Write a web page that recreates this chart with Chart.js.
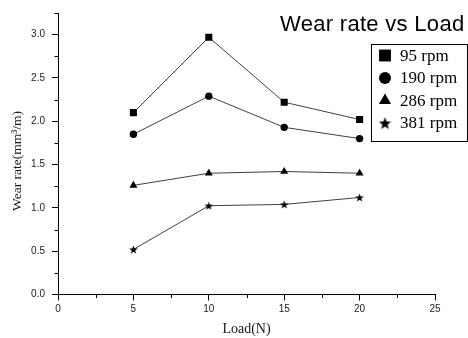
<!DOCTYPE html>
<html>
<head>
<meta charset="utf-8">
<script src="https://cdn.jsdelivr.net/npm/chart.js@4/dist/chart.umd.min.js"></script>
<style>
html,body{margin:0;padding:0;background:#fff;}
#wrap{position:relative;width:468px;height:338px;}
</style>
</head>
<body>
<div id="wrap"><canvas id="c" width="468" height="338"></canvas></div>
<script>
// ---- data ----
const loads = [5, 10, 15, 20];
const rpm95 = [2.10, 2.97, 2.22, 2.02];
const rpm190 = [1.85, 2.29, 1.93, 1.80];
const rpm286 = [1.26, 1.40, 1.42, 1.40];
const rpm381 = [0.52, 1.025, 1.04, 1.12];
const seriesLabels = ['95 rpm', '190 rpm', '286 rpm', '381 rpm'];
const chartTitle = 'Wear rate vs Load';
const xTitle = 'Load(N)';
const yTitle = 'Wear rate(mm\u00B3/m)';

function starCanvas(size) {
  const cv = document.createElement('canvas');
  cv.width = size; cv.height = size;
  const g = cv.getContext('2d');
  const cx = size / 2, cy = size / 2 + size * 0.05, R = size / 2, r = R * 0.42;
  g.beginPath();
  for (let i = 0; i < 10; i++) {
    const a = -Math.PI / 2 + i * Math.PI / 5;
    const rr = i % 2 === 0 ? R : r;
    const px = cx + rr * Math.cos(a), py = cy + rr * Math.sin(a);
    if (i === 0) g.moveTo(px, py); else g.lineTo(px, py);
  }
  g.closePath();
  g.fillStyle = '#000';
  g.fill();
  return cv;
}
const starSmall = starCanvas(9);
const starBig = starCanvas(13);

function toXY(vals) { return loads.map((x, i) => ({x: x, y: vals[i]})); }

const styles = [
  {pointStyle: 'rect', radius: 5},
  {pointStyle: 'circle', radius: 3.7},
  {pointStyle: 'triangle', radius: 4.6},
  {pointStyle: starSmall, radius: 4.5}
];
const legendStyles = [
  {pointStyle: 'rect', radius: 8.4},
  {pointStyle: 'circle', radius: 6},
  {pointStyle: 'triangle', radius: 7},
  {pointStyle: starBig, radius: 6.5}
];

const allSeries = [rpm95, rpm190, rpm286, rpm381];
const datasets = allSeries.map((vals, i) => ({
  label: seriesLabels[i],
  data: toXY(vals),
  borderColor: '#404040',
  borderWidth: 1,
  backgroundColor: '#000',
  pointBackgroundColor: '#000',
  pointBorderColor: '#000',
  pointBorderWidth: 0,
  pointStyle: styles[i].pointStyle,
  pointRadius: styles[i].radius,
  pointHoverRadius: styles[i].radius,
  tension: 0,
  fill: false
}));

const decor = {
  id: 'decor',
  afterDraw(chart) {
    const ctx = chart.ctx;
    const xs = chart.scales.x, ys = chart.scales.y;
    ctx.save();
    // minor ticks
    ctx.strokeStyle = '#000';
    ctx.lineWidth = 1;
    ctx.beginPath();
    for (let v = 2.5; v < 25; v += 5) {
      const px = Math.round(xs.getPixelForValue(v)) + 0.5;
      ctx.moveTo(px, ys.bottom); ctx.lineTo(px, ys.bottom + 3.5);
    }
    for (let v = 0.25; v <= 3.26; v += 0.5) {
      const py = Math.round(ys.getPixelForValue(v)) + 0.5;
      ctx.moveTo(xs.left, py); ctx.lineTo(xs.left - 3.5, py);
    }
    ctx.stroke();

    // chart title
    ctx.fillStyle = '#000';
    ctx.font = '22px "Liberation Sans", Arial, sans-serif';
    ctx.textAlign = 'left';
    ctx.textBaseline = 'alphabetic';
    try { ctx.letterSpacing = '0.3px'; } catch (e) {}
    ctx.fillText(chartTitle, 280, 31);
    try { ctx.letterSpacing = '0px'; } catch (e) {}

    // axis titles
    ctx.fillStyle = '#1a1414';
    ctx.font = '14px "Liberation Serif", "Times New Roman", serif';
    ctx.textAlign = 'center';
    ctx.textBaseline = 'middle';
    ctx.fillText(xTitle, (xs.left + xs.right) / 2, 329);
    ctx.save();
    ctx.translate(17, 161);
    ctx.rotate(-Math.PI / 2);
    ctx.font = '13.5px "Liberation Serif", "Times New Roman", serif';
    ctx.fillText(yTitle, 0, 0);
    ctx.restore();

    // legend box
    ctx.strokeStyle = '#000';
    ctx.lineWidth = 1;
    ctx.strokeRect(371.5, 44.5, 96, 97);
    ctx.font = '17px "Liberation Serif", "Times New Roman", serif';
    ctx.textAlign = 'left';
    ctx.textBaseline = 'middle';
    const rowY = [55.5, 78, 100.5, 123];
    seriesLabels.forEach((lab, i) => {
      ctx.fillStyle = '#000';
      Chart.helpers.drawPoint(ctx, {
        pointStyle: legendStyles[i].pointStyle,
        radius: legendStyles[i].radius,
        rotation: 0,
        borderWidth: 0
      }, 385, rowY[i]);
      ctx.fillStyle = '#000';
      ctx.fillText(lab, 400, rowY[i] + 1);
    });
    ctx.restore();
  }
};

new Chart(document.getElementById('c'), {
  type: 'line',
  data: {datasets: datasets},
  options: {
    responsive: false,
    animation: false,
    events: [],
    layout: {padding: {left: 0, top: 8, right: 33, bottom: 0}},
    plugins: {legend: {display: false}, tooltip: {enabled: false}, title: {display: false}},
    scales: {
      x: {
        type: 'linear',
        min: 0, max: 25,
        afterFit(s) { s.height = 43.5; },
        ticks: {
          stepSize: 5,
          padding: 3,
          color: '#222',
          font: {family: '"Liberation Sans", Arial, sans-serif', size: 10},
          callback: v => String(v),
          maxRotation: 0
        },
        grid: {display: true, drawOnChartArea: false, drawTicks: true, tickLength: 6, tickColor: '#000', color: '#000'},
        border: {display: true, color: '#000', width: 1}
      },
      y: {
        type: 'linear',
        min: 0, max: 3.25,
        afterFit(s) { s.width = 58; },
        ticks: {
          stepSize: 0.5,
          includeBounds: false,
          padding: 7,
          color: '#222',
          font: {family: '"Liberation Sans", Arial, sans-serif', size: 10},
          callback: v => v.toFixed(1)
        },
        grid: {display: true, drawOnChartArea: false, drawTicks: true, tickLength: 6, tickColor: '#000', color: '#000'},
        border: {display: true, color: '#000', width: 1}
      }
    }
  },
  plugins: [decor]
});
</script>
</body>
</html>
